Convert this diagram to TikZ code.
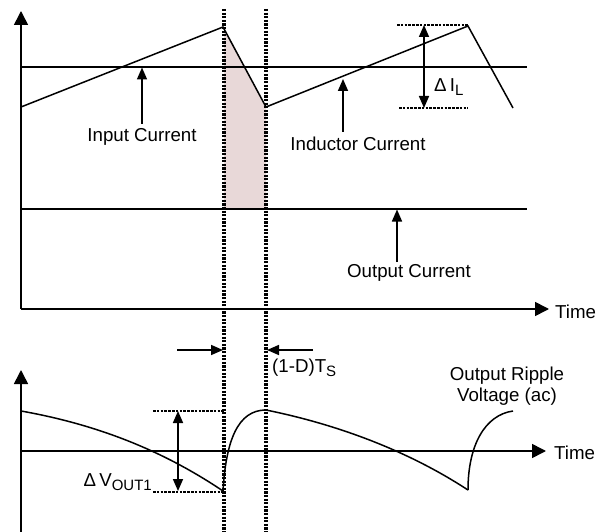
\documentclass[tikz,border=0pt]{standalone}
\usepackage{fontspec}
\setmainfont{Liberation Sans}
\usetikzlibrary{arrows.meta}
\newcommand{\lowsub}[1]{\raisebox{-4.5pt}{\fontsize{15}{15}\selectfont #1}}
\tikzset{
  wave/.style={line width=1.5pt, line join=miter},
  axisline/.style={line width=1.6pt, -{Triangle[length=14pt,width=14pt]}},
  refline/.style={line width=1.5pt},
  dotline/.style={line width=3.4pt, dash pattern=on 2.2pt off 1.4pt},
  dimline/.style={line width=2.2pt, dash pattern=on 2.5pt off 1.3pt},
  ptr/.style={line width=1.6pt, -{Triangle[length=12pt,width=10pt]}},
  dblptr/.style={line width=1.6pt, {Triangle[length=12pt,width=10pt]}-{Triangle[length=12pt,width=10pt]}},
  lbl/.style={inner sep=0pt, font=\fontsize{18.7}{22}\selectfont},
}
\begin{document}
\begin{tikzpicture}[x=1pt,y=-1pt]
\useasboundingbox (0,0) rectangle (605,532);
% shaded region
\fill[fill={rgb,255:red,232;green,216;blue,216}] (224,27) -- (266,107) -- (266,209) -- (224,209) -- cycle;
% coordinates
\coordinate (o1) at (21,309);
\coordinate (y1) at (21,11);
\coordinate (x1) at (549,309);
\coordinate (o2) at (21,532);
\coordinate (y2) at (21,370);
\coordinate (a2) at (21,451);
\coordinate (x2) at (546,451);
% top axes
\draw[axisline] (o1) -- (y1);
\draw[axisline] (o1) -- (x1);
\node[lbl, anchor=west] (t1) at (555,312) {Time};
% input current and output current lines
\coordinate (ic0) at (21,67); \coordinate (ic1) at (527,67);
\draw[refline] (ic0) -- (ic1);
\coordinate (oc0) at (21,209); \coordinate (oc1) at (527,209);
\draw[refline] (oc0) -- (oc1);
% inductor current
\coordinate (p0) at (21,107);
\coordinate (p1) at (223,27);
\coordinate (p2) at (266,107);
\coordinate (p3) at (468,26);
\coordinate (p4) at (513,108);
\draw[wave] (p0) -- (p1) -- (p2) -- (p3) -- (p4);
% vertical dotted lines
\coordinate (d1t) at (224,9); \coordinate (d1b) at (224,532);
\coordinate (d2t) at (266,9); \coordinate (d2b) at (266,532);
\draw[dotline] (d1t) -- (d1b);
\draw[dotline] (d2t) -- (d2b);
% labels top
\node[lbl] (inlbl) at (142,137) {Input Current};
\coordinate (inp) at (142,67.5);
\draw[ptr] (142,124) -- (inp);
\node[lbl] (indlbl) at (358,144) {Inductor Current};
\coordinate (indp) at (343,79);
\draw[ptr] (343,132) -- (indp);
\node[lbl] (outlbl) at (409,273) {Output Current};
\coordinate (outp) at (397,209.5);
\draw[ptr] (397,262) -- (outp);
% delta IL
\coordinate (dl1) at (397,25); \coordinate (dl2) at (468,25);
\coordinate (dl3) at (399,108); \coordinate (dl4) at (468,108);
\draw[dimline] (dl1) -- (dl2);
\draw[dimline] (dl3) -- (dl4);
\coordinate (dia) at (424,25); \coordinate (dib) at (424,108);
\draw[dblptr] (dia) -- (dib);
\node[lbl, anchor=west] (dil) at (434,87) {Δ\,I\lowsub{L}};
% bottom axes
\draw[axisline] (o2) -- (y2);
\draw[axisline] (a2) -- (x2);
\node[lbl, anchor=west] (t2) at (554,453) {Time};
% output voltage waveform
\coordinate (v0) at (21,411);
\coordinate (v1) at (223,491);
\coordinate (v2) at (266,410);
\coordinate (v3) at (468,490);
\coordinate (v4) at (513,411);
\draw[wave] (v0) .. controls (100,425) and (165,452) .. (v1)
   .. controls (226,440) and (238,410) .. (v2)
   .. controls (340,425) and (410,452) .. (v3);
\draw[wave] (v3) .. controls (468,445) and (485,415) .. (v4);
\node[lbl, align=center] (ripple) at (507,386) {Output Ripple\\[-1pt]Voltage (ac)};
% delta Vout
\coordinate (dv1) at (153,411); \coordinate (dv2) at (224,411);
\coordinate (dv3) at (153,492); \coordinate (dv4) at (224,492);
\draw[dimline] (dv1) -- (dv2);
\draw[dimline] (dv3) -- (dv4);
\coordinate (dva) at (178,411); \coordinate (dvb) at (178,491);
\draw[dblptr] (dva) -- (dvb);
\node[lbl, anchor=east] (dvl) at (152,482) {Δ\,V\lowsub{OUT1}};
% (1-D)Ts
\coordinate (ta) at (177,350); \coordinate (tb) at (223,350);
\coordinate (tc) at (313,350); \coordinate (td) at (267,350);
\draw[ptr] (ta) -- (tb);
\draw[ptr] (tc) -- (td);
\node[lbl, anchor=west] (tsl) at (272,368) {(1-D)T\lowsub{S}};
\end{tikzpicture}
\end{document}
